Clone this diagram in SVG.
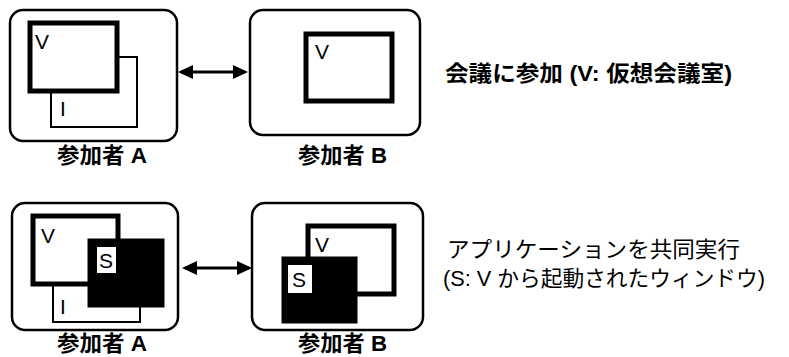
<svg xmlns="http://www.w3.org/2000/svg" width="789" height="357" viewBox="0 0 789 357">
<defs>
<style>
.box{fill:#fff;stroke:#000;stroke-width:2.5}
.vwin{fill:#fff;stroke:#000;stroke-width:5}
.iwin{fill:#fff;stroke:#000;stroke-width:2}
.swin{fill:#000;stroke:#000;stroke-width:1}
.slab{fill:#fff;stroke:none}
.wl{font-family:"Liberation Sans",Arial,sans-serif;font-size:21px;fill:#000}
.lab{font-family:"Liberation Sans","Noto Sans CJK JP",sans-serif;font-size:22px;font-weight:bold;fill:#000}
.cap{font-family:"Liberation Sans","Noto Sans CJK JP",sans-serif;font-size:22px;fill:#000}
.conn{stroke:#000;stroke-width:3;fill:none}
</style>
<marker id="ah" markerUnits="userSpaceOnUse" markerWidth="16" markerHeight="16" refX="12" refY="7" orient="auto-start-reverse" viewBox="0 0 16 16">
<path d="M0,0 L15,7 L0,14 z" fill="#000"/>
</marker>
</defs>
<rect width="789" height="357" fill="#fff"/>

<g id="participantA1">
<rect class="box" x="10" y="10" width="167" height="131" rx="13"/>
<rect class="iwin" x="51" y="57" width="86" height="70"/>
<text class="wl" x="60" y="116">I</text>
<rect class="vwin" x="30" y="23" width="87" height="68"/>
<text class="wl" x="35" y="49">V</text>
<text class="lab" x="57" y="163" textLength="90" lengthAdjust="spacingAndGlyphs">参加者 A</text>
</g>

<g id="participantB1">
<rect class="box" x="250" y="10" width="170" height="125" rx="13"/>
<rect class="vwin" x="306" y="34" width="86" height="67"/>
<text class="wl" x="315" y="59">V</text>
<text class="lab" x="298" y="163" textLength="89" lengthAdjust="spacingAndGlyphs">参加者 B</text>
</g>

<g id="participantA2">
<rect class="box" x="12" y="203" width="166" height="127" rx="13"/>
<rect class="iwin" x="53" y="250" width="87" height="72"/>
<text class="wl" x="60" y="314">I</text>
<rect class="vwin" x="33" y="216" width="85" height="68"/>
<text class="wl" x="41" y="243">V</text>
<rect class="swin" x="88" y="239" width="76" height="68"/>
<rect class="slab" x="97" y="247" width="19" height="26"/>
<text class="wl" x="99" y="268">S</text>
<text class="lab" x="57" y="351" textLength="90" lengthAdjust="spacingAndGlyphs">参加者 A</text>
</g>

<g id="participantB2">
<rect class="box" x="252" y="203" width="171" height="127" rx="13"/>
<rect class="vwin" x="308" y="226" width="86" height="68"/>
<text class="wl" x="315" y="252">V</text>
<rect class="swin" x="282" y="257" width="75" height="66"/>
<rect class="slab" x="288" y="265" width="24" height="28"/>
<text class="wl" x="292" y="287">S</text>
<text class="lab" x="298" y="351" textLength="89" lengthAdjust="spacingAndGlyphs">参加者 B</text>
</g>

<g id="connectors">
<path class="conn" d="M181,72 L245,72" marker-start="url(#ah)" marker-end="url(#ah)"/>
<path class="conn" d="M185,268 L249,268" marker-start="url(#ah)" marker-end="url(#ah)"/>
</g>

<g id="captions">
<text class="lab" x="445" y="81" textLength="287" lengthAdjust="spacingAndGlyphs">会議に参加 (V: 仮想会議室)</text>
<text class="cap" x="447" y="257" textLength="293" lengthAdjust="spacingAndGlyphs">アプリケーションを共同実行</text>
<text class="cap" x="443" y="286" textLength="322" lengthAdjust="spacingAndGlyphs">(S: V から起動されたウィンドウ)</text>
</g>
</svg>
